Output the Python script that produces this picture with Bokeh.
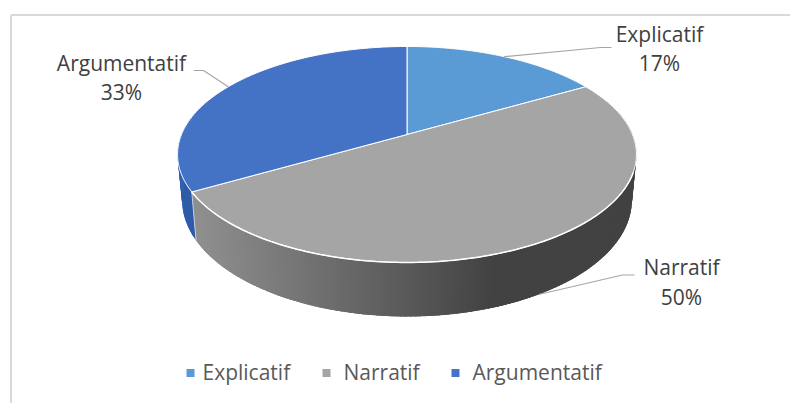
import numpy as np
from bokeh.plotting import figure
from bokeh.models import Range1d
from bokeh.core.properties import value
from bokeh.embed import file_html
from bokeh.resources import INLINE

categories = ["Explicatif", "Narratif", "Argumentatif"]
shares = [16.67, 50, 33.33]
labels = ["17%", "50%", "33%"]
colors = ["#5B9BD5", "#A5A5A5", "#4472C4"]

W, H = 790, 403
FONT = value("Open Sans")
SIZE = "21px"
TEXT = "#404040"

# perspective disc
CX, CY, A, B, C, DEPTH, SHRINK = 406.5, 134.0, 0.185, 104.3, 225.5, 44.0, 0.98


def top(theta):
    u, v = np.sin(theta), np.cos(theta)
    d = 1 + A * v
    return CX + C * u / d, CY - B * v / d


def bottom(theta):
    x, y = top(theta)
    return CX + (x - CX) * SHRINK, y + DEPTH / (1 + A * np.cos(theta))


def mix(x):
    # shading of the front wall, from left to right
    t = np.clip((x - 190.0) / 300.0, 0, 1)
    return int(round(0x90 + (0x42 - 0x90) * t))


p = figure(width=W, height=H, output_backend="svg", toolbar_location=None,
           x_range=Range1d(0, W), y_range=Range1d(H, 0), min_border=0,
           outline_line_color=None)
p.axis.visible = False
p.grid.visible = False
p.background_fill_color = "white"
p.border_fill_color = "white"

# chart frame
p.line([10.5, 10.5], [H, 14.5], line_color="#D9D9D9", line_width=2)
p.line([10.5, W], [14.5, 14.5], line_color="#D9D9D9", line_width=2)

bounds = np.cumsum([0] + shares) / sum(shares) * 2 * np.pi
mids = (bounds[:-1] + bounds[1:]) / 2

# front wall: thin overlapping strips, so no seams show
edges = np.radians(np.arange(70.0, 291.0, 1.0))
for a0, a1 in zip(edges[:-1], edges[1:]):
    m = (a0 + a1) / 2
    a2 = a1 + np.radians(1.5)
    x0, y0 = top(a0)
    x1, y1 = top(a2)
    x2, y2 = bottom(a2)
    x3, y3 = bottom(a0)
    if m >= bounds[2]:
        c = "#3462B0" if m > np.radians(262) else "#2F5CA8"
    else:
        a2 = min(a2, bounds[2])
        x1, y1 = top(a2)
        x2, y2 = bottom(a2)
        g = mix((x0 + x1) / 2)
        c = "#%02x%02x%02x" % (g, g, g)
    p.patch([x0, x1, x2, x3], [y0, y1, y2, y3], fill_color=c, line_color=None)

# seam between the grey and the blue walls
xs, ys = top(bounds[2])
xb, yb = bottom(bounds[2])
p.line([xs, xb], [ys, yb], line_color="#C9CFDA", line_width=1)

# upper faces
for i in range(3):
    th = np.linspace(bounds[i], bounds[i + 1], 120)
    x, y = top(th)
    p.patch(np.r_[CX, x], np.r_[CY, y], fill_color=colors[i], line_color="white", line_width=1)

# stronger light edge on the front rim
th = np.linspace(np.radians(110), bounds[2], 120)
x, y = top(th)
p.line(x, y, line_color="white", line_width=1.5)

# leader lines and data labels
anchors = [top(mids[0]), bottom(mids[1]), top(mids[2])]
elbows = [[(600, 47), (611, 47)], [(622, 274.5), (634, 274.5)], [(203, 70), (193, 70)]]
label_pos = [(659, 33, 62), (681, 266, 296), (121, 62, 91)]
for i in range(3):
    ax, ay = anchors[i]
    p.line([ax, elbows[i][0][0], elbows[i][1][0]], [ay, elbows[i][0][1], elbows[i][1][1]],
           line_color="#A6A6A6", line_width=1.2)
    lx, ly1, ly2 = label_pos[i]
    p.text([lx], [ly1], text=[categories[i]], text_font=FONT, text_font_size=SIZE,
           text_color=TEXT, text_align="center", text_baseline="middle")
    p.text([lx], [ly2], text=[labels[i]], text_font=FONT, text_font_size=SIZE,
           text_color=TEXT, text_align="center", text_baseline="middle")

# legend
marker_x = [190, 326, 455]
text_x = [202, 343, 472]
for i in range(3):
    p.scatter([marker_x[i]], [372.5], marker="square", size=8, fill_color=colors[i], line_color=None)
    p.text([text_x[i]], [371], text=[categories[i]], text_font=FONT, text_font_size=SIZE,
           text_color="#595959", text_align="left", text_baseline="middle")

open("out.html", "w").write(file_html(p, INLINE))
